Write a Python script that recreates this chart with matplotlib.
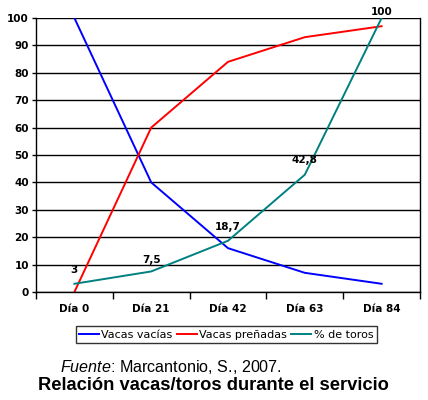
import matplotlib
matplotlib.use("Agg")
import matplotlib.pyplot as plt
import numpy as np

plt.rcParams["mathtext.fontset"] = "custom"
plt.rcParams["mathtext.rm"] = "Liberation Sans"
plt.rcParams["mathtext.it"] = "Liberation Sans:italic"

# data
dias = ["Día 0", "Día 21", "Día 42", "Día 63", "Día 84"]
vacas_vacias = [100, 40, 16, 7, 3]
vacas_prenadas = [0, 60, 84, 93, 97]
pct_toros = [3, 7.5, 18.7, 42.8, 100]
toros_labels = ["3", "7,5", "18,7", "42,8", "100"]

fig = plt.figure(figsize=(4.28, 4.00), dpi=100)
ax = fig.add_axes([36 / 428, 1 - 292 / 400, 384 / 428, 274 / 400])

x = np.arange(len(dias))
ax.plot(x, vacas_vacias, color="#0000FF", lw=1.4, label="Vacas vacías")
ax.plot(x, vacas_prenadas, color="#FF0000", lw=1.4, label="Vacas preñadas")
ax.plot(x, pct_toros, color="#008080", lw=1.4, label="% de toros")

# data labels for % de toros
offs = [(0, 6), (0, 5), (0, 6), (0, 7), (0, 1)]
for i in range(len(x)):
    ax.annotate(toros_labels[i], (x[i], pct_toros[i]), xytext=offs[i],
                textcoords="offset points", ha="center", va="bottom",
                fontsize=7.5, fontweight="bold")

ax.set_xlim(-0.5, len(dias) - 0.5)
ax.set_ylim(0, 100)
ax.set_yticks(range(0, 101, 10))
ax.set_xticks(x)
ax.set_xticklabels(dias)
ax.set_xticks(np.arange(-0.5, len(dias)), minor=True)
ax.tick_params(axis="x", which="major", length=0, pad=9, labelsize=7.5)
ax.tick_params(axis="x", which="minor", length=5, width=1, color="black")
ax.tick_params(axis="y", length=3, width=1, pad=2, labelsize=7.5)
for lab in ax.get_xticklabels() + ax.get_yticklabels():
    lab.set_fontweight("bold")

ax.yaxis.grid(True, color="black", lw=1)
ax.set_axisbelow(True)
ax.spines["top"].set_visible(False)
for s in ["left", "right", "bottom"]:
    ax.spines[s].set_linewidth(1)

leg = ax.legend(loc="upper center", bbox_to_anchor=(0.495, -0.125), ncol=3,
                fontsize=8, frameon=True, fancybox=False, edgecolor="black",
                handlelength=1.8, handletextpad=0.2, columnspacing=0.4,
                borderpad=0.3, borderaxespad=0)
leg.get_frame().set_linewidth(1)

fig.text(60 / 428, 1 - 367 / 400, "$\\it{Fuente}$: Marcantonio, S., 2007.",
         fontsize=11.6, family="Liberation Sans", va="center", ha="left")
fig.text(213 / 428, 1 - 386 / 400, "Relación vacas/toros durante el servicio",
         fontsize=13.2, family="Liberation Sans", fontweight="bold",
         va="center", ha="center")

fig.savefig("out.png", dpi=100)
